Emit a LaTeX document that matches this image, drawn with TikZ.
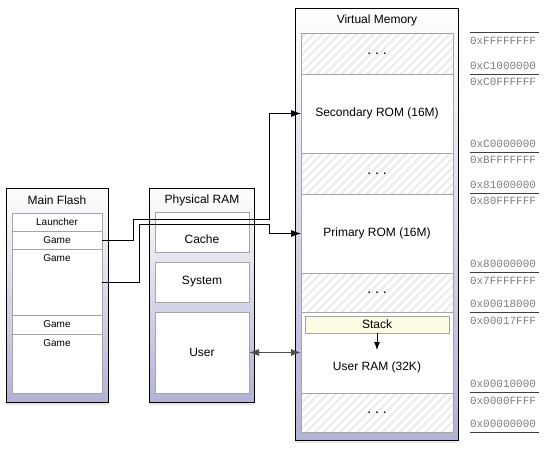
\documentclass[tikz,border=0pt]{standalone}
\usepackage{fontspec}
\setmainfont{Liberation Sans}
\newfontfamily\addrfont{Liberation Mono}
\usetikzlibrary{positioning,arrows.meta,shadows,patterns.meta}

\definecolor{lavender}{RGB}{178,178,214}
\definecolor{frame}{RGB}{165,165,165}
\definecolor{stackyellow}{RGB}{252,252,228}
\definecolor{addrgray}{RGB}{125,125,125}

\newcommand{\gapdots}{\textbf{.\hspace{5pt}.\hspace{5pt}.}}

\begin{document}
\begin{tikzpicture}[x=1pt,y=-1pt,node distance=0pt,
	every node/.style={inner sep=0pt,outer sep=0pt},
	box/.style={draw,line width=0.9pt,top color=white,bottom color=lavender,
		drop shadow={shadow xshift=0pt,shadow yshift=-2.5pt,opacity=0.2}},
	title/.style={font=\fontsize{12}{14}\selectfont},
	slot/.style={draw=frame,fill=white,line width=0.7pt,minimum width=90pt,
		font=\fontsize{10}{12}\selectfont},
	topname/.style={anchor=north,yshift=-5.5pt,font=\fontsize{10}{12}\selectfont},
	part/.style={draw=frame,fill=white,line width=0.7pt,minimum width=94pt,
		minimum height=40pt,font=\fontsize{12}{14}\selectfont},
	region/.style={draw=frame,fill=white,line width=0.7pt,minimum width=152pt,
		font=\fontsize{12}{14}\selectfont},
	unused/.style={draw=frame,line width=0.7pt,minimum width=152pt,preaction={fill=white},
		pattern={Lines[angle=45,distance=6pt,line width=2.4pt]},pattern color=black!7},
	addr/.style={anchor=west,text=addrgray,font=\addrfont\fontsize{11}{12}\selectfont},
	tip/.tip={Latex[length=10pt,width=7pt]},
	link/.style={line width=0.9pt,-tip}]

	\useasboundingbox (0,0) rectangle (545,450);

	% virtual memory map
	\node[box,minimum width=163pt,minimum height=432pt] (vm) at (376.5,224) {};
	\node[title] (vmname) at (377,20.5) {Virtual Memory};
	\node[unused,minimum height=41pt,anchor=north] (free1) at (377,33) {\gapdots};
	\node[region,minimum height=79pt,below=of free1] (secrom) {Secondary ROM (16M)};
	\node[unused,minimum height=41pt,below=of secrom] (free2) {\gapdots};
	\node[region,minimum height=79pt,below=of free2] (prirom) {Primary ROM (16M)};
	\node[unused,minimum height=39pt,below=of prirom] (free3) {\gapdots};
	\node[region,minimum height=81pt,below=of free3,
		label={[yshift=-14.5pt,font=\fontsize{12}{14}\selectfont]center:User RAM (32K)}] (uram) {};
	\node[unused,minimum height=39pt,below=of uram] (free4) {\gapdots};
	\node[draw=frame,fill=stackyellow,line width=0.7pt,minimum width=144pt,minimum height=17pt,
		font=\fontsize{12}{14}\selectfont] (stack) at (377,324.5) {Stack};

	% main flash
	\node[box,minimum width=102pt,minimum height=214pt] (flash) at (57,295) {};
	\node[title] (flashname) at (57,200) {Main Flash};
	\node[slot,minimum height=18pt,anchor=north] (launcher) at (57,213) {Launcher};
	\node[slot,minimum height=18pt,below=of launcher] (game1) {Game};
	\node[slot,minimum height=66pt,below=of game1,label={[topname]north:Game}] (game2) {};
	\node[slot,minimum height=19pt,below=of game2] (game3) {Game};
	\node[slot,minimum height=59pt,below=of game3,label={[topname]north:Game}] (game4) {};

	% physical ram
	\node[box,minimum width=105pt,minimum height=214pt] (ram) at (201.5,295) {};
	\node[title] (ramname) at (202,200) {Physical RAM};
	\node[part,anchor=north,label={[yshift=-7pt,font=\fontsize{12}{14}\selectfont]center:Cache}] (cache) at (202,212) {};
	\node[part,below=10pt of cache] (system) {System};
	\node[part,minimum height=81pt,below=10pt of system] (user) {User};

	% address column
	\foreach \y in {32,74,152,193,272,312,392,432}
		\draw[line width=1pt,black!75] (470,\y) -- (539,\y);
	\foreach \a/\y in {0xFFFFFFFF/41,0xC1000000/66,0xC0FFFFFF/82,0xC0000000/144,
		0xBFFFFFFF/160,0x81000000/185,0x80FFFFFF/201,0x80000000/264,0x7FFFFFFF/281,
		0x00018000/304,0x00017FFF/321,0x00010000/384,0x0000FFFF/401,0x00000000/424}
		\node[addr] at (470,\y) {\a};

	% mappings
	\draw[link] (game1.east) -| (133,219) -| (269,113.5) -- (secrom.west);
	\draw[link] (game2.east) -| (139,224) -| (269,233.5) -- (prirom.west);
	\draw[line width=1.2pt,black!70,tip-tip] (user.east) -- (uram.west);
	\draw[line width=0.9pt,-{Latex[length=8pt,width=6pt]}] (stack.south) -- ++(0,17);
\end{tikzpicture}
\end{document}
